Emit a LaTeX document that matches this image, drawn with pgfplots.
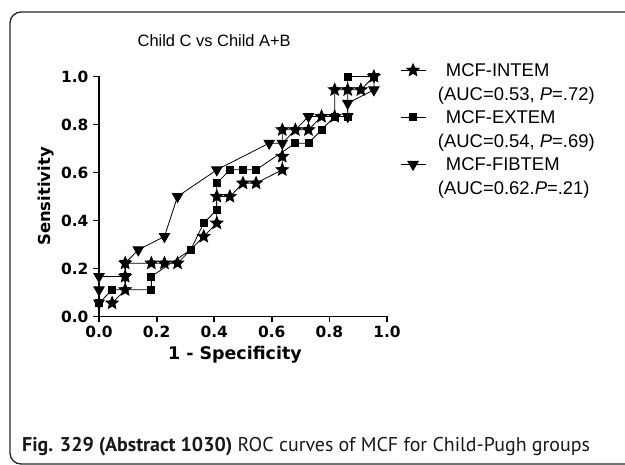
\documentclass[border=0pt]{standalone}
\usepackage{pgfplots}
\pgfplotsset{compat=1.18}
\usepackage{fontspec}
\setmainfont{Liberation Sans}
\newfontfamily\tickfont{DejaVu Sans}
\newfontfamily\capfont{PT Sans}

% filled five-point star, GraphPad style
\pgfdeclareplotmark{fstar}{%
  \pgfpathmoveto{\pgfpointpolar{90}{\pgfplotmarksize}}%
  \pgfpathlineto{\pgfpointpolar{126}{0.45\pgfplotmarksize}}%
  \pgfpathlineto{\pgfpointpolar{162}{\pgfplotmarksize}}%
  \pgfpathlineto{\pgfpointpolar{198}{0.45\pgfplotmarksize}}%
  \pgfpathlineto{\pgfpointpolar{234}{\pgfplotmarksize}}%
  \pgfpathlineto{\pgfpointpolar{270}{0.45\pgfplotmarksize}}%
  \pgfpathlineto{\pgfpointpolar{306}{\pgfplotmarksize}}%
  \pgfpathlineto{\pgfpointpolar{342}{0.45\pgfplotmarksize}}%
  \pgfpathlineto{\pgfpointpolar{18}{\pgfplotmarksize}}%
  \pgfpathlineto{\pgfpointpolar{54}{0.45\pgfplotmarksize}}%
  \pgfpathclose
  \pgfusepathqfillstroke}

% ROC points, x = 1-specificity (steps of 1/22), y = sensitivity (steps of 1/18)
\pgfplotstableread{
x y
0.0455 0.0556
0.0909 0.1111
0.0909 0.1667
0.0909 0.2222
0.1818 0.2222
0.2273 0.2222
0.2727 0.2222
0.3636 0.3333
0.4091 0.3889
0.4091 0.5000
0.4545 0.5000
0.5000 0.5556
0.5455 0.5556
0.6364 0.6111
0.6364 0.6667
0.6364 0.7778
0.6818 0.7778
0.7273 0.7778
0.7727 0.8333
0.8182 0.8333
0.8182 0.9444
0.8636 0.9444
0.9091 0.9444
0.9545 1.0000
}\intem

\pgfplotstableread{
x y
0.0000 0.0556
0.0455 0.1111
0.1818 0.1111
0.1818 0.1667
0.3182 0.2778
0.3636 0.3889
0.4091 0.4444
0.4091 0.5556
0.4545 0.6111
0.5000 0.6111
0.5455 0.6111
0.6818 0.7222
0.7273 0.7222
0.7727 0.7778
0.8182 0.8333
0.8636 0.8333
0.8636 1.0000
0.9545 1.0000
}\extem

\pgfplotstableread{
x y
0.0000 0.0556
0.0000 0.1111
0.0000 0.1667
0.0909 0.1667
0.0909 0.2222
0.1364 0.2778
0.2273 0.3333
0.2727 0.5000
0.4091 0.6111
0.5909 0.7222
0.6364 0.7222
0.7273 0.8333
0.8636 0.8333
0.8636 0.8889
0.9545 0.9444
0.9545 1.0000
}\fibtem

\begin{document}
\begin{tikzpicture}[x=1bp,y=1bp]
\useasboundingbox (0,0) rectangle (625,465);
\begin{scope}
  \clip (0,0) rectangle (625,465);
  \draw[line width=1.3bp, black!85, rounded corners=11bp] (640,453) -- (10,453) -- (10,1) -- (640,1);
\end{scope}

\begin{axis}[
  at={(99bp,148.5bp)}, anchor=south west,
  scale only axis, width=288bp, height=240bp,
  xmin=0, xmax=1, ymin=0, ymax=1,
  axis x line*=bottom, axis y line*=left,
  axis line style={line width=1.8bp, -},
  tick style={line width=1.8bp, black},
  major tick length=6bp, tick align=outside,
  xtick={0,0.2,0.4,0.6,0.8,1}, ytick={0,0.2,0.4,0.6,0.8,1},
  /pgf/number format/.cd, fixed, fixed zerofill, precision=1, assume math mode=true, /pgfplots/.cd,
  ticklabel style={font=\tickfont\bfseries\fontsize{15.5}{15.5}\selectfont},
  yticklabel style={xshift=-1bp},
  xlabel={1 - Specificity}, ylabel={Sensitivity},
  label style={font=\tickfont\bfseries\fontsize{16.5}{16.5}\selectfont},
  xlabel style={at={(axis description cs:0.472,-0.16)}, anchor=center,
    font=\tickfont\bfseries\fontsize{17.5}{17.5}\selectfont},
  ylabel style={at={(axis description cs:-0.184,0.5)}, anchor=center, rotate=0},
  title={Child C vs Child A+B},
  title style={at={(axis description cs:0.40,1.098)}, anchor=base,
    font=\fontsize{16.5}{16.5}\selectfont},
  clip=false,
  legend style={at={(axis description cs:1.045,1.067)}, anchor=north west,
    draw=none, fill=none, font=\fontsize{18.5}{18.5}\selectfont,
    row sep=0pt, column sep=12bp, inner sep=0pt,
    nodes={inner sep=0pt, text height=16bp, text depth=7.5bp}},
  legend cell align=left,
  legend image code/.code={%
    \draw[mark repeat=2, mark phase=2, #1] plot coordinates {(0bp,2bp) (12.5bp,2bp) (25bp,2bp)};},
  every axis plot/.append style={black, line width=0.8bp, mark options={solid, fill=black}},
]
\addplot[mark=fstar, mark size=6.5bp] table {\intem};
\addlegendentry{\hspace{8bp}MCF-INTEM}
\addlegendimage{empty legend}
\addlegendentry{(AUC=0.53, \textit{P}=.72)}
\addplot[mark=square*, mark size=3.5bp] table {\extem};
\addlegendentry{\hspace{8bp}MCF-EXTEM}
\addlegendimage{empty legend}
\addlegendentry{(AUC=0.54, \textit{P}=.69)}
\addplot[mark=triangle*, mark size=6bp, mark options={rotate=180}] table {\fibtem};
\addlegendentry{\hspace{8bp}MCF-FIBTEM}
\addlegendimage{empty legend}
\addlegendentry{(AUC=0.62.\textit{P}=.21)}
\end{axis}

\node[anchor=base west, inner sep=0pt, font=\capfont\fontsize{20}{20}\selectfont, text=black!90]
  at (22,13) {\textbf{Fig. 329 (Abstract 1030)} ROC curves of MCF for Child-Pugh groups};
\end{tikzpicture}
\end{document}
